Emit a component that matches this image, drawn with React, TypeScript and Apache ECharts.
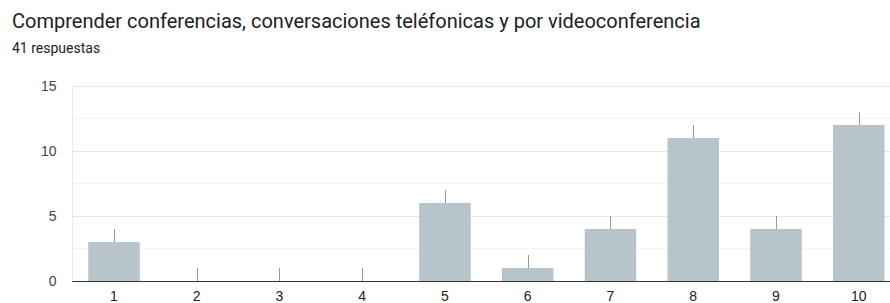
import React, { useEffect, useRef } from "react";
import * as echarts from "echarts";

const titleText = "Comprender conferencias, conversaciones teléfonicas y por videoconferencia";
const subtitleText = "41 respuestas";
const categories = ["1", "2", "3", "4", "5", "6", "7", "8", "9", "10"];
const counts = [3, 0, 0, 0, 6, 1, 4, 11, 4, 12];
const yTicks = [0, 5, 10, 15];

export default function App() {
  const ref = useRef<HTMLDivElement>(null);
  useEffect(() => {
    if (!ref.current) return;
    const chart = echarts.init(ref.current, undefined, { renderer: "svg" });
    chart.setOption({
      animation: false,
      backgroundColor: "#ffffff",
      title: [
        {
          text: titleText,
          left: 7,
          top: 6,
          textStyle: { fontFamily: "Roboto", fontSize: 20, fontWeight: "normal", color: "#202124" },
        },
        {
          text: subtitleText,
          left: 7,
          top: 36,
          textStyle: { fontFamily: "Roboto", fontSize: 14, fontWeight: "normal", color: "#202124" },
        },
      ],
      grid: { left: 72.6, top: 86, width: 827.5, height: 195, containLabel: false },
      xAxis: {
        type: "category",
        data: categories,
        axisLine: { show: true, lineStyle: { color: "#333333", width: 1 } },
        axisTick: { show: false },
        axisLabel: { fontFamily: "Liberation Sans", fontSize: 14, color: "#222222", margin: 8 },
        splitLine: { show: false },
      },
      yAxis: {
        type: "value",
        min: yTicks[0],
        max: yTicks[yTicks.length - 1],
        interval: 5,
        axisLine: { show: true, lineStyle: { color: "#ebebeb" } },
        axisTick: { show: false },
        axisLabel: { fontFamily: "Liberation Sans", fontSize: 14, color: "#444444", margin: 16 },
        splitLine: { show: true, lineStyle: { color: "#e8e8e8" } },
        minorTick: { show: false, splitNumber: 2 },
        minorSplitLine: { show: true, lineStyle: { color: "#f4f4f4" } },
      },
      series: [
        {
          type: "bar",
          data: counts,
          barWidth: 51.5,
          itemStyle: { color: "#b7c4cb" },
          z: 2,
        },
        {
          type: "custom",
          data: counts.map((v, i) => [i, v]),
          z: 3,
          renderItem: (params: any, api: any) => {
            const i = api.value(0);
            const v = api.value(1);
            const p0 = api.coord([i, v]);
            const p1 = api.coord([i, v + 1]);
            const x = Math.round(p0[0]) + 0.5;
            return {
              type: "line",
              shape: { x1: x, y1: p0[1], x2: x, y2: p1[1] },
              style: { stroke: "#9a9a9a", lineWidth: 1 },
            };
          },
        },
      ],
    });
    return () => chart.dispose();
  }, []);
  return (
    <div style={{ position: "fixed", left: 0, top: 0, width: 890, height: 303, overflow: "hidden", background: "#fff" }}>
      <div ref={ref} style={{ width: 910, height: 303 }} />
    </div>
  );
}
